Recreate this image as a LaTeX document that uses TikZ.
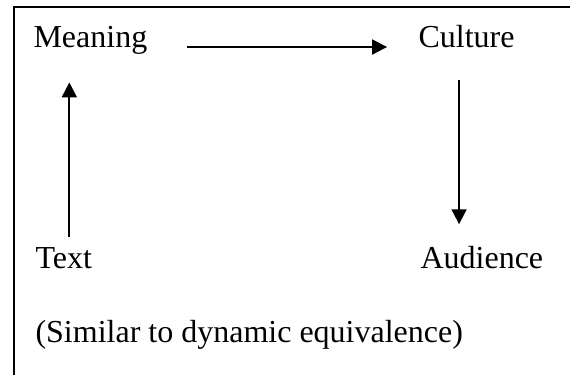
\documentclass[tikz,border=0pt]{standalone}
\usepackage{fontspec}
\setmainfont{Liberation Serif}
\usetikzlibrary{arrows.meta}

\begin{document}
\begin{tikzpicture}[x=0.375pt,y=-0.375pt,
  lbl/.style={inner sep=0pt,anchor=base west,font=\fontsize{12pt}{14pt}\selectfont},
  arr/.style={line width=0.75pt,-{Triangle[length=5.6pt,width=5.6pt]}}]

\useasboundingbox (0,0) rectangle (570,374);

\draw[line width=0.75pt]  (13.5,376) |- (572,7);

\node[lbl] (meaning) at (33,47) {Meaning};
\node[lbl] (culture) at (418,47) {Culture};
\node[lbl] (text) at (35,268) {Text};
\node[lbl] (audience) at (420,268) {Audience};
\node[lbl] (note) at (35,342) {(Similar to dynamic equivalence)};


\draw[arr, shorten <=14.6pt, shorten >=11.6pt]  (meaning.base east) --(culture.base west);
\draw[arr, shorten <=3.75pt, shorten >=10.5pt]  ([xshift=2.1pt]text.north) --([xshift=2.1pt]text.north |- meaning.south);
\draw[arr, shorten <=12pt, shorten >=7.9pt]  ([xshift=-2.8pt]culture.south) --([xshift=-2.8pt]culture.south |- audience.north);

\end{tikzpicture}
\end{document}
